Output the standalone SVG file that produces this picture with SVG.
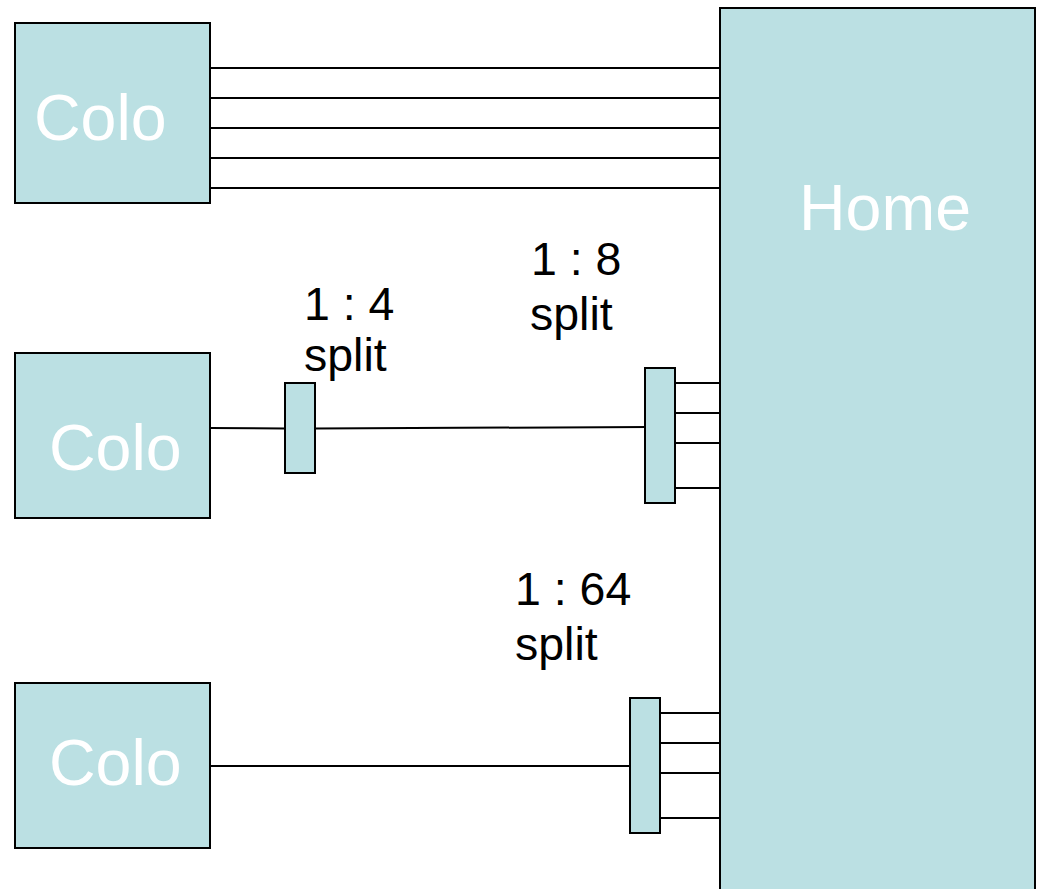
<svg xmlns="http://www.w3.org/2000/svg" width="1037" height="889" viewBox="0 0 1037 889">
<style>
.box{fill:#bbe0e3;stroke:#000;stroke-width:2}
.lbl{font-family:"Liberation Sans",Arial,sans-serif;fill:#fff;font-size:64.5px}
.cap{font-family:"Liberation Sans",Arial,sans-serif;fill:#000;font-size:46.5px}
.ln{stroke:#000;stroke-width:2;fill:none}
</style>
<rect width="1037" height="889" fill="#fff"/>
<g id="connectors">
<line class="ln" x1="210" y1="68" x2="720" y2="68"/>
<line class="ln" x1="210" y1="98" x2="720" y2="98"/>
<line class="ln" x1="210" y1="128" x2="720" y2="128"/>
<line class="ln" x1="210" y1="158" x2="720" y2="158"/>
<line class="ln" x1="210" y1="188" x2="720" y2="188"/>
<line class="ln" x1="210" y1="428" x2="285" y2="428.5"/>
<line class="ln" x1="315" y1="428.5" x2="649" y2="427"/>
<line class="ln" x1="675" y1="383" x2="720" y2="383"/>
<line class="ln" x1="675" y1="413" x2="720" y2="413"/>
<line class="ln" x1="675" y1="443" x2="720" y2="443"/>
<line class="ln" x1="675" y1="488" x2="720" y2="488"/>
<line class="ln" x1="210" y1="766" x2="630" y2="766"/>
<line class="ln" x1="660" y1="713" x2="720" y2="713"/>
<line class="ln" x1="660" y1="743" x2="720" y2="743"/>
<line class="ln" x1="660" y1="773" x2="720" y2="773"/>
<line class="ln" x1="660" y1="818" x2="720" y2="818"/>
</g>
<g id="home">
<rect class="box" x="720" y="8" width="315" height="890"/>
<text class="lbl" x="799" y="230">Home</text>
</g>
<g id="colo1">
<rect class="box" x="15" y="23" width="195" height="180"/>
<text class="lbl" x="34" y="140">Colo</text>
</g>
<g id="colo2">
<rect class="box" x="15" y="353" width="195" height="165"/>
<text class="lbl" x="49" y="470">Colo</text>
</g>
<g id="colo3">
<rect class="box" x="15" y="683" width="195" height="165"/>
<text class="lbl" x="49" y="785">Colo</text>
</g>
<g id="split4">
<rect class="box" x="285" y="383" width="30" height="90"/>
<text class="cap" x="304" y="320">1 : 4</text>
<text class="cap" x="304" y="371">split</text>
</g>
<g id="split8">
<rect class="box" x="645" y="368" width="30" height="135"/>
<text class="cap" x="531" y="275">1 : 8</text>
<text class="cap" x="530" y="330">split</text>
</g>
<g id="split64">
<rect class="box" x="630" y="698" width="30" height="135"/>
<text class="cap" x="515" y="605">1 : 64</text>
<text class="cap" x="515" y="660">split</text>
</g>
</svg>
